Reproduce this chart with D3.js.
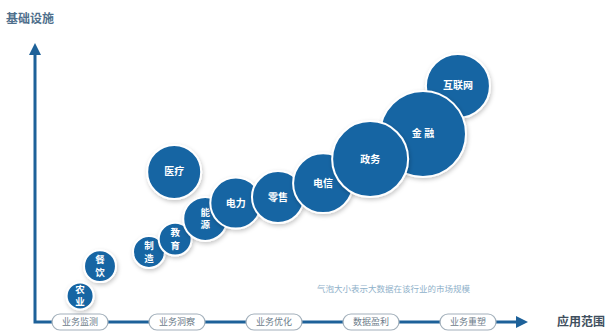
<!DOCTYPE html>
<html>
<head>
<meta charset="utf-8">
<script src="https://cdn.jsdelivr.net/npm/d3@7"></script>
<style>
  body { margin: 0; background: #fff; }
  svg { display: block; font-family: "Noto Sans CJK SC", "Noto Sans", sans-serif; }
</style>
</head>
<body>
<div id="chart"></div>
<script>
// industries, drawn in this order (later ones sit on top)
const industries = ["农业", "餐饮", "制造", "教育", "能源", "医疗", "电力", "零售", "电信", "互联网", "金融", "政务"]
// application scope (x), infrastructure (y), market size (bubble)
const scopeValues = [9.3, 13.4, 23.5, 28.9, 35.1, 28.7, 41.4, 50.1, 59.4, 87.2, 80.0, 69.1]
const infraValues = [9.2, 20.1, 25.3, 30.0, 37.4, 54.6, 43.2, 45.4, 50.5, 86.1, 68.5, 59.3]
const sizeValues = [9, 12.6, 12.6, 13.4, 23.9, 36, 32.1, 33.4, 44.4, 50.6, 91.3, 71.3]
// labels written top-to-bottom
const verticalLabels = ["农业", "餐饮", "制造", "教育", "能源"]
const stageLabels = ["业务监测", "业务洞察", "业务优化", "数据盈利", "业务重塑"]

const dims = { width: 613, height: 333 }
const axisColor = "#1d6199"
const bubbleColor = "#1865a3"

const svg = d3.select("#chart").append("svg")
    .attr("width", dims.width)
    .attr("height", dims.height)

const defs = svg.append("defs")
defs.append("filter").attr("id", "shadow")
    .attr("x", "-30%").attr("y", "-30%").attr("width", "160%").attr("height", "160%")
    .append("feDropShadow")
    .attr("dx", 1).attr("dy", 2).attr("stdDeviation", 2)
    .attr("flood-color", "#000").attr("flood-opacity", 0.22)

const xScale = d3.scaleLinear().domain([0, 100]).range([35, 520])
const yScale = d3.scaleLinear().domain([0, 100]).range([321, 48])
const rScale = d3.scaleSqrt().domain([0, 100]).range([0, 45])
const stageScale = d3.scalePoint().domain(stageLabels).range([80, 468])

const data = industries.map((name, i) => ({
    name,
    x: scopeValues[i],
    y: infraValues[i],
    size: sizeValues[i]
}))

//------------- axes
const x0 = xScale(0), y0 = yScale(0) + 1
const axisG = svg.append("g")
axisG.append("path")
    .attr("d", `M${x0},${yScale(100) + 4} V${y0} H${xScale(100) - 2}`)
    .attr("fill", "none")
    .attr("stroke", axisColor)
    .attr("stroke-width", 3)

// arrow heads
axisG.append("path")
    .attr("d", `M${x0},${yScale(100) - 5} l-6,12 h12 z`)
    .attr("fill", axisColor)
axisG.append("path")
    .attr("d", `M${xScale(100) + 8},${y0} l-12,-6 v12 z`)
    .attr("fill", axisColor)

// stage pills along the x axis
const pills = axisG.selectAll(".pill")
    .data(stageLabels)
    .join("g")
    .attr("class", "pill")
    .attr("transform", d => `translate(${stageScale(d)},${y0})`)

pills.append("rect")
    .attr("x", -28).attr("y", -8)
    .attr("width", 56).attr("height", 16)
    .attr("rx", 8)
    .attr("fill", "#fff")
    .attr("stroke", "#a3b0bb")
    .attr("stroke-width", 1.2)

pills.append("text")
    .attr("text-anchor", "middle")
    .attr("dy", "0.35em")
    .attr("font-size", 9)
    .attr("fill", "#6d7c8a")
    .text(d => d)

//------------- axis titles
svg.append("text")
    .attr("x", 6).attr("y", 23)
    .attr("font-size", 12)
    .attr("font-weight", "bold")
    .attr("fill", "#4f6f8c")
    .text("基础设施")

svg.append("text")
    .attr("x", 557).attr("y", y0)
    .attr("dy", "0.36em")
    .attr("font-size", 12)
    .attr("font-weight", "bold")
    .attr("fill", "#3f4f5e")
    .text("应用范围")

svg.append("text")
    .attr("x", 317).attr("y", 292)
    .attr("font-size", 8.5)
    .attr("fill", "#8fb1ca")
    .text("气泡大小表示大数据在该行业的市场规模")

//------------- bubbles
const bubbles = svg.append("g").selectAll("g")
    .data(data)
    .join("g")
    .attr("transform", d => `translate(${xScale(d.x)},${yScale(d.y)})`)

bubbles.append("circle")
    .attr("r", d => rScale(d.size))
    .attr("fill", bubbleColor)
    .attr("stroke", "#fff")
    .attr("stroke-width", 2)
    .attr("filter", "url(#shadow)")

bubbles.each(function (d) {
    const g = d3.select(this)
    if (verticalLabels.includes(d.name)) {
        // one text per character, stacked
        const chars = Array.from(d.name)
        g.selectAll("text")
            .data(chars)
            .join("text")
            .attr("text-anchor", "middle")
            .attr("fill", "#fff")
            .attr("font-size", 9.5)
            .attr("font-weight", "bold")
            .attr("y", (c, i) => (i - (chars.length - 1) / 2) * 12.5)
            .attr("dy", "0.35em")
            .text(c => c)
    } else {
        g.append("text")
            .attr("text-anchor", "middle")
            .attr("fill", "#fff")
            .attr("font-size", 10)
            .attr("font-weight", "bold")
            .attr("dy", "0.35em")
            .text(d.name === "金融" ? "金 融" : d.name)
    }
})
</script>
</body>
</html>
